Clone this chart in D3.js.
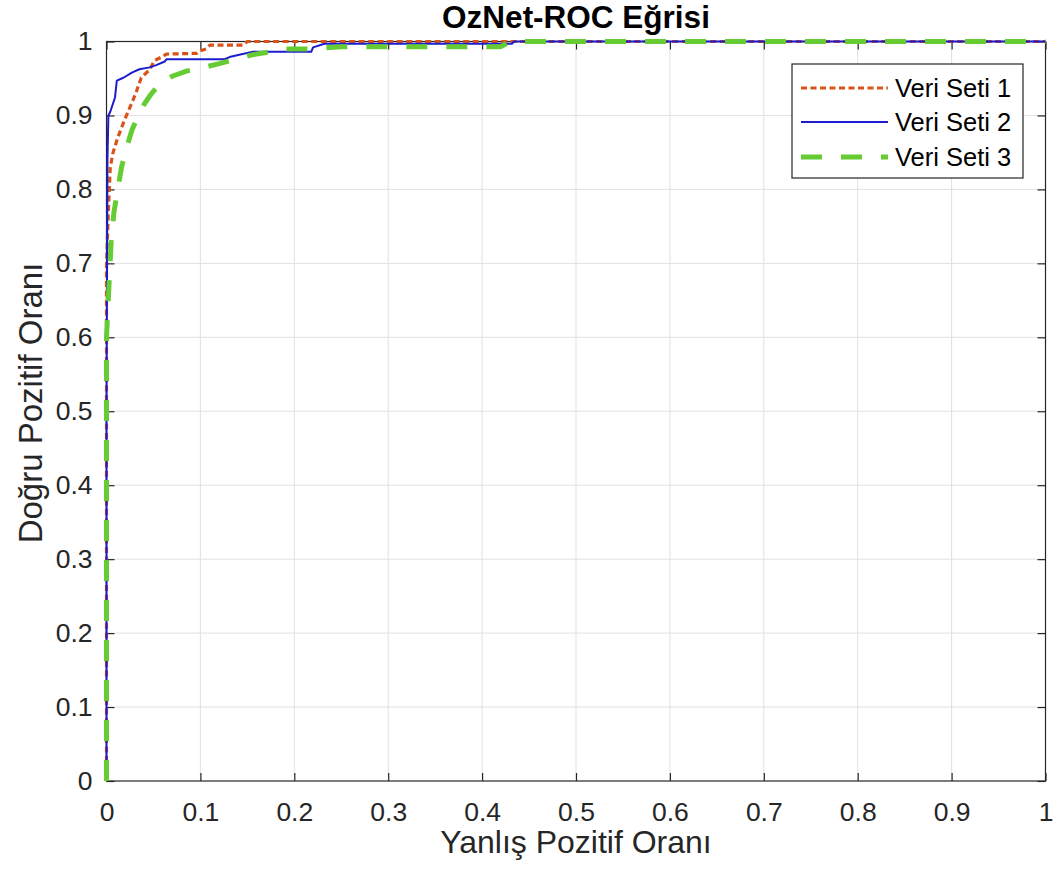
<!DOCTYPE html>
<html>
<head>
<meta charset="utf-8">
<script src="https://cdn.jsdelivr.net/npm/d3@7"></script>
<style>
  html, body { margin: 0; padding: 0; background: #ffffff; }
  svg { display: block; font-family: "Liberation Sans", Arial, sans-serif; }
</style>
</head>
<body>
<svg id="chart" width="1061" height="876"></svg>
<script>
// ---- data ----
const titleText = "OzNet-ROC Eğrisi";
const xLabelText = "Yanlış Pozitif Oranı";
const yLabelText = "Doğru Pozitif Oranı";
const seriesNames = ["Veri Seti 1", "Veri Seti 2", "Veri Seti 3"];
const xTicks = [0, 0.1, 0.2, 0.3, 0.4, 0.5, 0.6, 0.7, 0.8, 0.9, 1];
const yTicks = [0, 0.1, 0.2, 0.3, 0.4, 0.5, 0.6, 0.7, 0.8, 0.9, 1];

const fpr1 = [0, 0, 0.002, 0.004, 0.007, 0.012, 0.018, 0.023, 0.028, 0.032, 0.037, 0.046, 0.051, 0.057, 0.064, 0.096, 0.099, 0.106, 0.110, 0.145, 0.150, 1];
const tpr1 = [0, 0.70, 0.77, 0.83, 0.85, 0.87, 0.89, 0.905, 0.92, 0.933, 0.951, 0.962, 0.974, 0.978, 0.983, 0.984, 0.987, 0.990, 0.995, 0.995, 1, 1];

const fpr2 = [0, 0, 0.001, 0.002, 0.004, 0.009, 0.011, 0.018, 0.027, 0.035, 0.046, 0.053, 0.062, 0.064, 0.126, 0.131, 0.145, 0.155, 0.218, 0.220, 0.232, 0.432, 0.434, 1];
const tpr2 = [0, 0.50, 0.84, 0.90, 0.905, 0.924, 0.947, 0.951, 0.958, 0.9625, 0.965, 0.968, 0.973, 0.976, 0.976, 0.979, 0.983, 0.986, 0.986, 0.992, 0.997, 0.997, 1, 1];

const fpr3 = [0, 0, 0.003, 0.005, 0.008, 0.012, 0.016, 0.020, 0.027, 0.034, 0.040, 0.047, 0.058, 0.070, 0.085, 0.100, 0.120, 0.135, 0.155, 0.170, 0.190, 0.220, 0.250, 0.420, 0.430, 1];
const tpr3 = [0, 0.60, 0.68, 0.73, 0.77, 0.80, 0.83, 0.85, 0.88, 0.90, 0.915, 0.928, 0.945, 0.953, 0.960, 0.964, 0.970, 0.975, 0.982, 0.985, 0.990, 0.990, 0.993, 0.993, 1, 1];

const colors = ["#d95319", "#1c1ccf", "#66cc33"];

// ---- layout ----
const svg = d3.select("#chart");
const pLeft = 106.5, pRight = 1045.5, pTop = 41.5, pBottom = 781;
const x = d3.scaleLinear().domain([0, 1]).range([pLeft, pRight]);
const y = d3.scaleLinear().domain([0, 1]).range([pBottom, pTop]);

// grid
const grid = svg.append("g");
grid.selectAll("line.gx").data(xTicks.slice(1, -1)).enter().append("line")
  .attr("x1", d => x(d)).attr("x2", d => x(d)).attr("y1", pTop).attr("y2", pBottom)
  .attr("stroke", "#e1e1e1").attr("stroke-width", 1);
grid.selectAll("line.gy").data(yTicks.slice(1, -1)).enter().append("line")
  .attr("x1", pLeft).attr("x2", pRight).attr("y1", d => y(d)).attr("y2", d => y(d))
  .attr("stroke", "#e1e1e1").attr("stroke-width", 1);

// axes (ticks inward, all four sides)
const tickLen = 8;
const axisColor = "#262626";
const bottomAxis = d3.axisBottom(x).tickValues(xTicks).tickSize(-tickLen).tickPadding(21).tickFormat(d3.format("~g"));
const topAxis = d3.axisTop(x).tickValues(xTicks).tickSize(-tickLen).tickFormat("");
const leftAxis = d3.axisLeft(y).tickValues(yTicks).tickSize(-tickLen).tickPadding(14).tickFormat(d3.format("~g"));
const rightAxis = d3.axisRight(y).tickValues(yTicks).tickSize(-tickLen).tickFormat("");

function styleAxis(g) {
  g.selectAll("path.domain").remove();
  g.selectAll(".tick line").attr("stroke", axisColor).attr("stroke-width", 1.2);
  g.selectAll(".tick text").attr("fill", axisColor).style("font-size", "26.5px")
    .style("font-family", "'Liberation Sans', Arial, sans-serif");
}
svg.append("g").attr("transform", `translate(0,${pBottom})`).call(bottomAxis).call(styleAxis);
svg.append("g").attr("transform", `translate(0,${pTop})`).call(topAxis).call(styleAxis);
svg.append("g").attr("transform", `translate(${pLeft},0)`).call(leftAxis).call(styleAxis);
svg.append("g").attr("transform", `translate(${pRight},0)`).call(rightAxis).call(styleAxis);
svg.append("rect").attr("x", pLeft).attr("y", pTop).attr("width", pRight - pLeft).attr("height", pBottom - pTop)
  .attr("fill", "none").attr("stroke", axisColor).attr("stroke-width", 1.2);

// curves
const series = [
  { name: seriesNames[0], pts: fpr1.map((f, i) => [f, tpr1[i]]), color: colors[0], width: 3.2, dash: "6,3.5" },
  { name: seriesNames[1], pts: fpr2.map((f, i) => [f, tpr2[i]]), color: colors[1], width: 2, dash: null },
  { name: seriesNames[2], pts: fpr3.map((f, i) => [f, tpr3[i]]), color: colors[2], width: 5, dash: "21,19" }
];
const line = d3.line().x(d => x(d[0])).y(d => y(d[1]));
svg.append("g").selectAll("path").data(series).enter().append("path")
  .attr("d", d => line(d.pts))
  .attr("fill", "none")
  .attr("stroke", d => d.color)
  .attr("stroke-width", d => d.width)
  .attr("stroke-dasharray", d => d.dash)
  .attr("stroke-linejoin", "round");

// title and labels
svg.append("text").attr("x", (pLeft + pRight) / 2).attr("y", 28).attr("text-anchor", "middle")
  .style("font-size", "31.5px").style("font-weight", "bold").attr("fill", "#000").text(titleText);
svg.append("text").attr("x", (pLeft + pRight) / 2).attr("y", 853).attr("text-anchor", "middle")
  .style("font-size", "32px").attr("fill", axisColor).text(xLabelText);
svg.append("text").attr("transform", `translate(42,403) rotate(-90)`).attr("text-anchor", "middle")
  .style("font-size", "33px").attr("fill", axisColor).text(yLabelText);

// legend
const lg = svg.append("g");
lg.append("rect").attr("x", 792).attr("y", 64).attr("width", 231).attr("height", 114)
  .attr("fill", "#fff").attr("stroke", axisColor).attr("stroke-width", 1.2);
const rowY = [88, 122, 157];
series.forEach((s, i) => {
  lg.append("line").attr("x1", 801).attr("x2", 888).attr("y1", rowY[i]).attr("y2", rowY[i])
    .attr("stroke", s.color).attr("stroke-width", s.width).attr("stroke-dasharray", s.dash);
  lg.append("text").attr("x", 895).attr("y", rowY[i]).attr("dy", "0.35em")
    .style("font-size", "25.5px").attr("fill", "#000").text(s.name);
});
</script>
</body>
</html>
